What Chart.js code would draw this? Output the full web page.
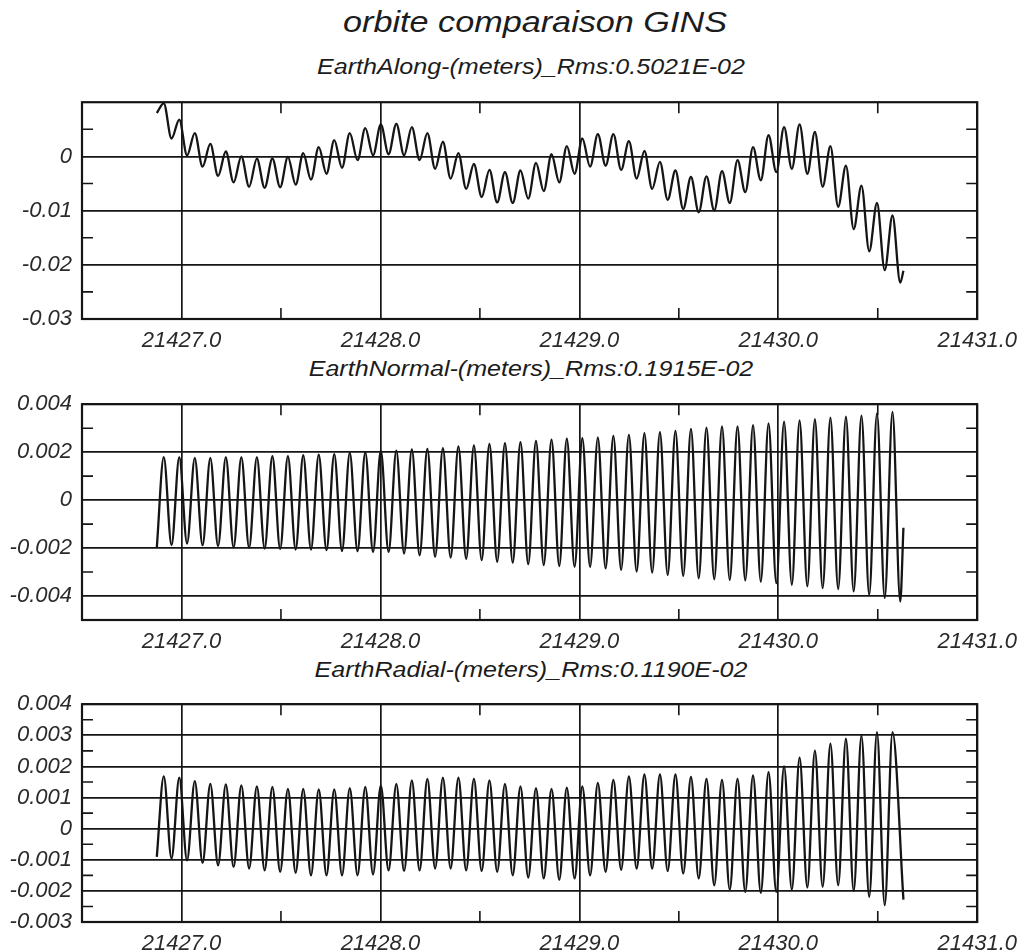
<!DOCTYPE html>
<html>
<head>
<meta charset="utf-8">
<script src="https://cdn.jsdelivr.net/npm/chart.js@4.4.1/dist/chart.umd.min.js"></script>
<style>
  body { margin: 0; width: 1026px; height: 950px; background: #fff; position: relative; overflow: hidden; }
  .txt { position: absolute; left: 0; text-align: center; font-family: "Liberation Sans", Arial, sans-serif; font-style: italic; color: #1c1c1c; white-space: nowrap; }
  #mainTitle { top: 7px; width: 1070px; font-size: 30px; line-height: 30px; transform: scaleX(1.14); }
  .sub { width: 1062px; font-size: 22px; line-height: 22px; transform: scaleX(1.14); }
  canvas { position: absolute; left: 0; }
</style>
</head>
<body>
<div class="txt" id="mainTitle">orbite comparaison GINS</div>
<div class="txt sub" style="top:56px">EarthAlong-(meters)_Rms:0.5021E-02</div>
<div class="txt sub" style="top:358px">EarthNormal-(meters)_Rms:0.1915E-02</div>
<div class="txt sub" style="top:659px">EarthRadial-(meters)_Rms:0.1190E-02</div>
<canvas id="alongChart" width="1026" height="274" style="top:79px"></canvas>
<canvas id="normalChart" width="1026" height="273" style="top:381px"></canvas>
<canvas id="radialChart" width="1026" height="275" style="top:681px"></canvas>
<script>
// epochs (days) of the orbit maxima / minima
const peakEpochs = [21426.911, 21426.989, 21427.067, 21427.145, 21427.223, 21427.301, 21427.379, 21427.457,
  21427.535, 21427.612, 21427.690, 21427.768, 21427.846, 21427.924, 21428.002, 21428.080, 21428.158, 21428.236,
  21428.314, 21428.392, 21428.470, 21428.548, 21428.626, 21428.704, 21428.782, 21428.860, 21428.937, 21429.015,
  21429.093, 21429.171, 21429.249, 21429.327, 21429.405, 21429.483, 21429.561, 21429.639, 21429.717, 21429.795,
  21429.873, 21429.951, 21430.029, 21430.107, 21430.184, 21430.262, 21430.340, 21430.418, 21430.496, 21430.574];
const troughEpochs = [21426.950, 21427.028, 21427.106, 21427.184, 21427.262, 21427.340, 21427.418, 21427.496,
  21427.574, 21427.651, 21427.729, 21427.807, 21427.885, 21427.963, 21428.041, 21428.119, 21428.197, 21428.275,
  21428.353, 21428.431, 21428.509, 21428.587, 21428.665, 21428.743, 21428.821, 21428.899, 21428.976, 21429.054,
  21429.132, 21429.210, 21429.288, 21429.366, 21429.444, 21429.522, 21429.600, 21429.678, 21429.756, 21429.834,
  21429.912, 21429.990, 21430.068, 21430.146, 21430.223, 21430.301, 21430.379, 21430.457, 21430.535, 21430.613];
const startEpoch = 21426.876;
const endEpoch = 21430.629;

// Along (m)
const alongStart = 0.0080;
const alongPeaks = [0.0098, 0.0068, 0.0043, 0.0023, 0.0009, 0.0000, -0.0004, -0.0004, -0.0001, 0.0006,
  0.0017, 0.0030, 0.0043, 0.0052, 0.0059, 0.0060, 0.0054, 0.0043, 0.0027, 0.0006,
  -0.0014, -0.0025, -0.0029, -0.0026, -0.0012, 0.0004, 0.0019, 0.0033, 0.0041, 0.0041,
  0.0028, 0.0010, -0.0010, -0.0026, -0.0038, -0.0037, -0.0027, -0.0007, 0.0017, 0.0039,
  0.0054, 0.0059, 0.0045, 0.0019, -0.0017, -0.0054, -0.0086, -0.0109];
const alongTroughs = [0.0033, 0.0002, -0.0019, -0.0036, -0.0048, -0.0056, -0.0058, -0.0057, -0.0052, -0.0043,
  -0.0032, -0.0021, -0.0007, 0.0002, 0.0004, 0.0002, -0.0007, -0.0023, -0.0041, -0.0060,
  -0.0075, -0.0085, -0.0086, -0.0078, -0.0064, -0.0048, -0.0032, -0.0019, -0.0017, -0.0025,
  -0.0041, -0.0060, -0.0080, -0.0097, -0.0103, -0.0100, -0.0086, -0.0066, -0.0044, -0.0029,
  -0.0023, -0.0032, -0.0056, -0.0093, -0.0134, -0.0175, -0.0210, -0.0233];
const alongEnd = -0.0211;

// Normal (m)
const normalStart = -0.00199;
const normalPeaks = [0.00179, 0.00179, 0.00176, 0.00176, 0.00179, 0.00179, 0.00179, 0.00183, 0.00183, 0.00187,
  0.00190, 0.00192, 0.00197, 0.00199, 0.00206, 0.00206, 0.00212, 0.00214, 0.00217, 0.00224,
  0.00228, 0.00234, 0.00238, 0.00242, 0.00247, 0.00252, 0.00256, 0.00258, 0.00261, 0.00268,
  0.00272, 0.00279, 0.00283, 0.00289, 0.00297, 0.00302, 0.00307, 0.00307, 0.00313, 0.00320,
  0.00327, 0.00332, 0.00338, 0.00344, 0.00348, 0.00352, 0.00362, 0.00368];
const normalTroughs = [-0.00188, -0.00181, -0.00188, -0.00192, -0.00198, -0.00199, -0.00202, -0.00203, -0.00206, -0.00206,
  -0.00209, -0.00212, -0.00213, -0.00216, -0.00216, -0.00223, -0.00230, -0.00236, -0.00239, -0.00245,
  -0.00250, -0.00257, -0.00261, -0.00267, -0.00271, -0.00275, -0.00278, -0.00278, -0.00285, -0.00291,
  -0.00298, -0.00302, -0.00312, -0.00316, -0.00326, -0.00330, -0.00333, -0.00335, -0.00340, -0.00346,
  -0.00353, -0.00360, -0.00367, -0.00371, -0.00381, -0.00395, -0.00408, -0.00423];
const normalEnd = -0.00115;

// Radial (m)
const radialStart = -0.00091;
const radialPeaks = [0.00168, 0.00164, 0.00153, 0.00144, 0.00142, 0.00139, 0.00136, 0.00134, 0.00128, 0.00128,
  0.00126, 0.00126, 0.00130, 0.00134, 0.00139, 0.00144, 0.00155, 0.00160, 0.00164, 0.00164,
  0.00160, 0.00155, 0.00144, 0.00136, 0.00130, 0.00128, 0.00132, 0.00136, 0.00147, 0.00157,
  0.00168, 0.00174, 0.00174, 0.00174, 0.00166, 0.00160, 0.00157, 0.00160, 0.00171, 0.00182,
  0.00200, 0.00228, 0.00251, 0.00273, 0.00289, 0.00299, 0.00310, 0.00310];
const radialTroughs = [-0.00096, -0.00102, -0.00110, -0.00118, -0.00123, -0.00128, -0.00134, -0.00139, -0.00142, -0.00150,
  -0.00150, -0.00150, -0.00150, -0.00147, -0.00134, -0.00136, -0.00134, -0.00128, -0.00128, -0.00134,
  -0.00136, -0.00139, -0.00150, -0.00157, -0.00160, -0.00164, -0.00160, -0.00150, -0.00139, -0.00132,
  -0.00128, -0.00128, -0.00136, -0.00144, -0.00160, -0.00182, -0.00196, -0.00203, -0.00206, -0.00203,
  -0.00196, -0.00189, -0.00187, -0.00182, -0.00200, -0.00219, -0.00246];
const radialEnd = -0.00228;

// axes
const xTicks = [21427, 21428, 21429, 21430, 21431];
const xMinorTicks = [21427.5, 21428.5, 21429.5, 21430.5];
const alongYTicks = [0, -0.01, -0.02, -0.03];
const alongYMinor = [0.005, -0.005, -0.015, -0.025];
const normalYTicks = [0.004, 0.002, 0, -0.002, -0.004];
const normalYMinor = [0.003, 0.001, -0.001, -0.003];
const radialYTicks = [0.004, 0.003, 0.002, 0.001, 0, -0.001, -0.002, -0.003];
const radialYMinor = [0.0035, 0.0025, 0.0015, 0.0005, -0.0005, -0.0015, -0.0025];

const ink = '#151515';
const tickFont = { family: '"Liberation Sans", Arial, sans-serif', size: 22, style: 'italic' };

function orbitSeries(start, peaks, troughs, end) {
  const pts = [{ x: startEpoch, y: start }];
  peaks.forEach((p, i) => {
    pts.push({ x: peakEpochs[i], y: p });
    if (i < troughs.length) pts.push({ x: troughEpochs[i], y: troughs[i] });
  });
  pts.push({ x: endEpoch, y: end });
  return pts;
}

// cadre + petites graduations vers l'intérieur
const frameTicks = {
  id: 'frameTicks',
  afterDraw(chart, args, opts) {
    const { ctx, chartArea: a, scales: { x, y } } = chart;
    ctx.save();
    ctx.strokeStyle = ink;
    ctx.lineWidth = 1.6;
    ctx.beginPath();
    opts.yMinor.forEach(v => {
      const py = y.getPixelForValue(v);
      ctx.moveTo(a.left, py); ctx.lineTo(a.left + 11, py);
      ctx.moveTo(a.right, py); ctx.lineTo(a.right - 11, py);
    });
    xMinorTicks.forEach(v => {
      const px = x.getPixelForValue(v);
      ctx.moveTo(px, a.top); ctx.lineTo(px, a.top + 11);
      ctx.moveTo(px, a.bottom); ctx.lineTo(px, a.bottom - 11);
    });
    ctx.stroke();
    ctx.lineWidth = 2.2;
    ctx.strokeRect(a.left, a.top, a.width, a.height);
    ctx.restore();
  }
};

function makePanel(id, data, yMin, yMax, yTicks, yMinor) {
  return new Chart(document.getElementById(id), {
    type: 'line',
    data: {
      datasets: [{
        data: data,
        borderColor: ink,
        borderWidth: 2.3,
        pointRadius: 0,
        fill: false,
        cubicInterpolationMode: 'monotone'
      }]
    },
    options: {
      responsive: false,
      animation: false,
      devicePixelRatio: 1,
      layout: { autoPadding: false, padding: { top: 22, right: 46, left: 0, bottom: 0 } },
      plugins: {
        legend: { display: false },
        tooltip: { enabled: false },
        frameTicks: { yMinor: yMinor }
      },
      scales: {
        x: {
          type: 'linear',
          min: 21426.5,
          max: 21431,
          afterBuildTicks: s => { s.ticks = xTicks.map(v => ({ value: v })); },
          afterFit: s => { s.height = 34; },
          ticks: {
            callback: v => v.toFixed(1),
            font: tickFont,
            color: '#2a2a2a',
            autoSkip: false,
            maxRotation: 0,
            minRotation: 0,
            padding: 9
          },
          grid: { color: ink, lineWidth: 1.7, drawTicks: false },
          border: { display: false }
        },
        y: {
          type: 'linear',
          min: yMin,
          max: yMax,
          afterBuildTicks: s => { s.ticks = yTicks.map(v => ({ value: v })); },
          afterFit: s => { s.width = 82; },
          ticks: {
            callback: v => String(v),
            font: tickFont,
            color: '#2a2a2a',
            padding: 10
          },
          grid: { color: ink, lineWidth: 1.7, drawTicks: false },
          border: { display: false }
        }
      }
    },
    plugins: [frameTicks]
  });
}

makePanel('alongChart', orbitSeries(alongStart, alongPeaks, alongTroughs, alongEnd), -0.03, 0.01, alongYTicks, alongYMinor);
makePanel('normalChart', orbitSeries(normalStart, normalPeaks, normalTroughs, normalEnd), -0.005, 0.004, normalYTicks, normalYMinor);
makePanel('radialChart', orbitSeries(radialStart, radialPeaks, radialTroughs, radialEnd), -0.003, 0.004, radialYTicks, radialYMinor);
</script>
</body>
</html>
